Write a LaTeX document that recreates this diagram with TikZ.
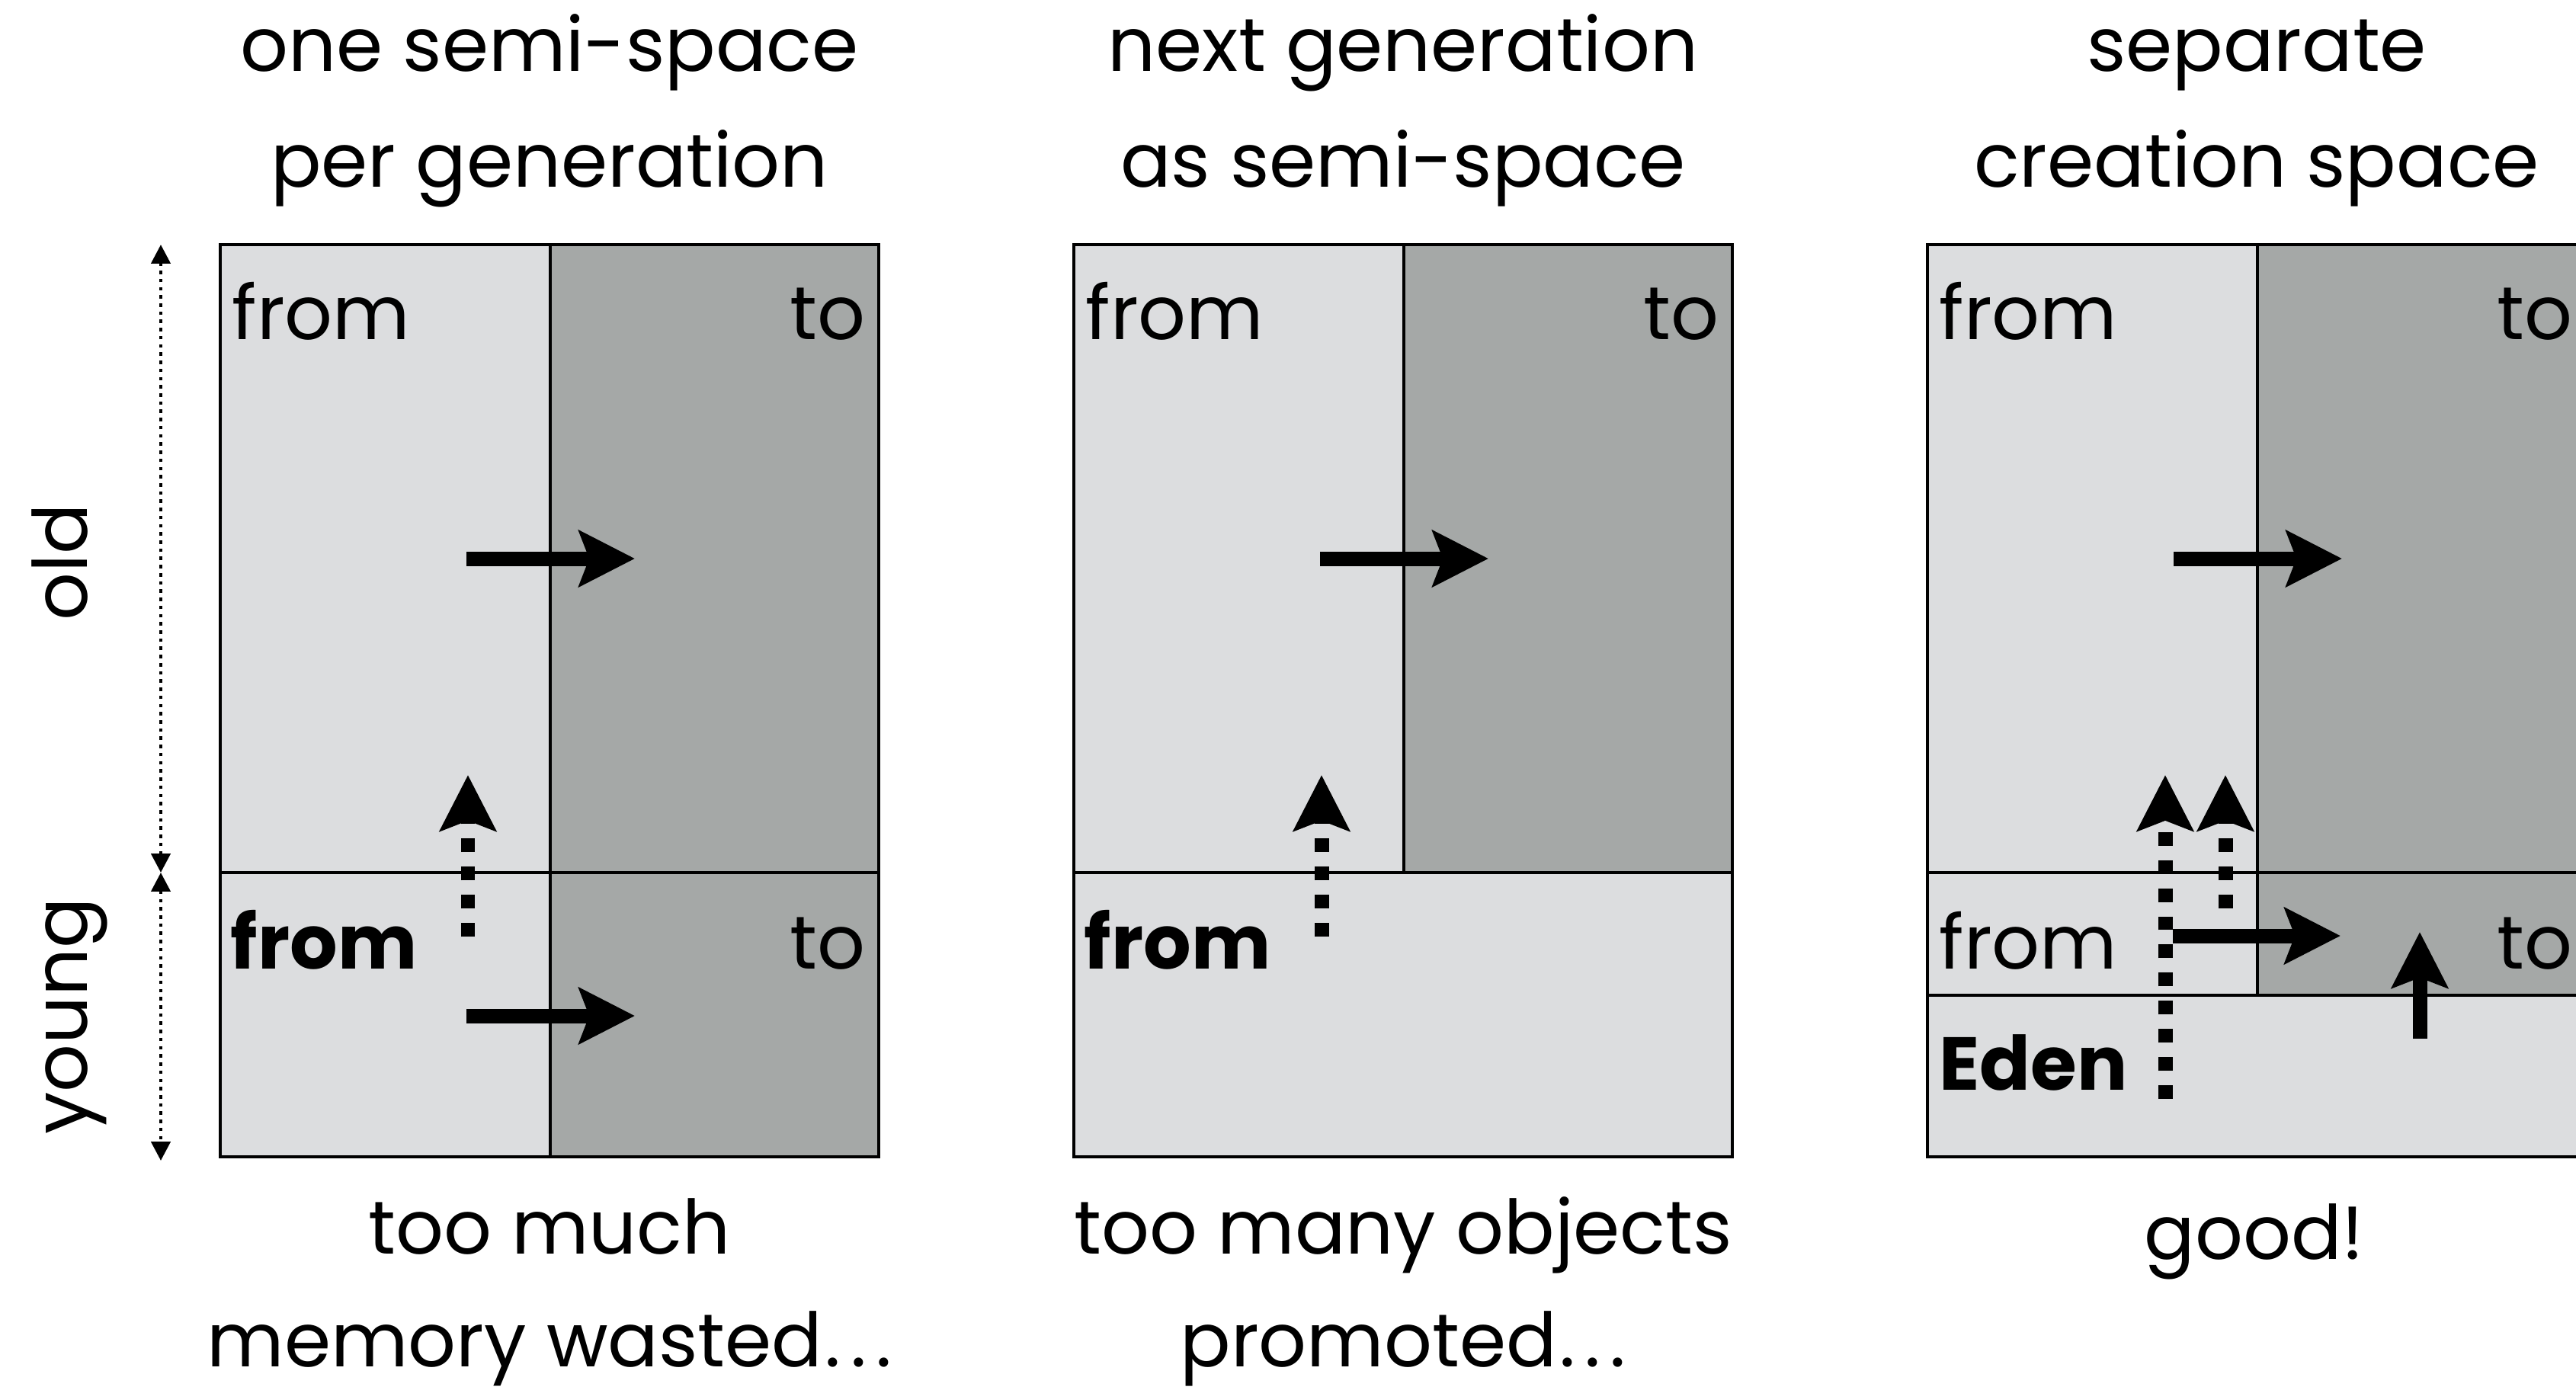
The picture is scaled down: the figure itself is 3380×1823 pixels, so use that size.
\documentclass[tikz,border=0pt]{standalone}
\usepackage{fontspec}
\setmainfont{Poppins}
\usetikzlibrary{arrows.meta,positioning,calc}

\definecolor{spacelight}{RGB}{220,221,223}
\definecolor{spacedark}{RGB}{165,168,167}
\newcommand{\spacedots}{\kern1pt.\kern3.6pt.\kern3.6pt.}

\begin{document}
\begin{tikzpicture}[x=0.01cm,y=-0.01cm,
  light/.style={fill=spacelight,draw=black,line width=0.95pt},
  dark/.style={fill=spacedark,draw=black,line width=0.95pt},
  panelframe/.style={draw=black,line width=1.4pt},
  caption/.style={font=\fontsize{28}{30}\selectfont,anchor=base,inner sep=0pt},
  lbl/.style={font=\fontsize{28}{30}\selectfont,inner sep=0pt},
  boldlbl/.style={lbl,font=\fontsize{28}{30}\selectfont\bfseries},
  move/.style={line width=5.4pt,-{Stealth[length=20.8pt,width=20.8pt,inset=3.8pt]}},
  promote/.style={move,dash pattern=on 5.1pt off 5.4pt},
  extent/.style={line width=1.3pt,dash pattern=on 1.3pt off 1.75pt,
    {Triangle[length=7.1pt,width=7.1pt]}-{Triangle[length=7.1pt,width=7.1pt]}}]
\useasboundingbox (0,0) rectangle (3380,1823);

% side scale
\node[lbl,rotate=90,anchor=base] (old) at (114,738) {old};
\node[lbl,rotate=90,anchor=base] (young) at (114,1333) {young};
\coordinate (oldtop) at (211,321);
\coordinate (split) at (211,1145);
\coordinate (youngbot) at (211,1523);
\draw[extent] (split) -- (oldtop);
\draw[extent] (split) -- (youngbot);

% one semi-space per generation
\filldraw[light] (289,321) rectangle (722,1145);
\filldraw[dark] (722,321) rectangle (1153,1145);
\filldraw[light] (289,1145) rectangle (722,1518);
\filldraw[dark] (722,1145) rectangle (1153,1518);
\draw[panelframe] (289,321) rectangle (1153,1518);
\node[caption] (t1a) at (721,93) {one semi-space};
\node[caption] (t1b) at (721,245) {per generation};
\node[lbl,anchor=base west] (from1o) at (304,445) {from};
\node[lbl,anchor=base east] (to1o) at (1136,445) {to};
\node[boldlbl,anchor=base west] (from1y) at (302,1271) {from};
\node[lbl,anchor=base east] (to1y) at (1136,1271) {to};
\node[caption] (c1a) at (721,1645) {too much};
\node[caption] (c1b) at (721,1793) {memory wasted\spacedots};
\coordinate (m1a) at (612,733); \coordinate (m1b) at (833,733);
\coordinate (m1c) at (612,1333); \coordinate (m1d) at (833,1333);
\coordinate (u1a) at (614,1229); \coordinate (u1b) at (614,1017);
\draw[move] (m1a) -- (m1b);
\draw[move] (m1c) -- (m1d);
\draw[promote] (u1a) -- (u1b);

% next generation as semi-space
\filldraw[light] (1409,321) rectangle (1842,1145);
\filldraw[dark] (1842,321) rectangle (2273,1145);
\filldraw[light] (1409,1145) rectangle (2273,1518);
\draw[panelframe] (1409,321) rectangle (2273,1518);
\node[caption] (t2a) at (1841,93) {next generation};
\node[caption] (t2b) at (1841,245) {as semi-space};
\node[lbl,anchor=base west] (from2o) at (1424,445) {from};
\node[lbl,anchor=base east] (to2o) at (2256,445) {to};
\node[boldlbl,anchor=base west] (from2y) at (1422,1271) {from};
\node[caption] (c2a) at (1841,1645) {too many objects};
\node[caption] (c2b) at (1841,1793) {promoted\spacedots};
\coordinate (m2a) at (1732,733); \coordinate (m2b) at (1953,733);
\coordinate (u2a) at (1734,1229); \coordinate (u2b) at (1734,1017);
\draw[move] (m2a) -- (m2b);
\draw[promote] (u2a) -- (u2b);

% separate creation space
\filldraw[light] (2529,321) rectangle (2962,1145);
\filldraw[dark] (2962,321) rectangle (3393,1145);
\filldraw[light] (2529,1145) rectangle (2962,1306);
\filldraw[dark] (2962,1145) rectangle (3393,1306);
\filldraw[light] (2529,1306) rectangle (3393,1518);
\draw[panelframe] (2529,321) rectangle (3393,1518);
\node[caption] (t3a) at (2961,93) {separate};
\node[caption] (t3b) at (2961,245) {creation space};
\node[lbl,anchor=base west] (from3o) at (2544,445) {from};
\node[lbl,anchor=base east] (to3o) at (3376,445) {to};
\node[lbl,anchor=base west] (from3y) at (2544,1271) {from};
\node[lbl,anchor=base east] (to3y) at (3376,1271) {to};
\node[boldlbl,anchor=base west] (eden) at (2544,1430) {Eden};
\node[caption] (c3) at (2958,1652) {good!};
\coordinate (m3a) at (2852,733); \coordinate (m3b) at (3073,733);
\coordinate (m3c) at (2851,1228); \coordinate (m3d) at (3071,1228);
\coordinate (u3a) at (2841,1442); \coordinate (u3b) at (2841,1017);
\coordinate (u3c) at (2920,1192); \coordinate (u3d) at (2920,1017);
\coordinate (e3a) at (3175,1363); \coordinate (e3b) at (3175,1223);
\draw[move] (m3a) -- (m3b);
\draw[promote] (u3a) -- (u3b);
\draw[promote] (u3c) -- (u3d);
\draw[move] (m3c) -- (m3d);
\draw[move] (e3a) -- (e3b);
\end{tikzpicture}
\end{document}
